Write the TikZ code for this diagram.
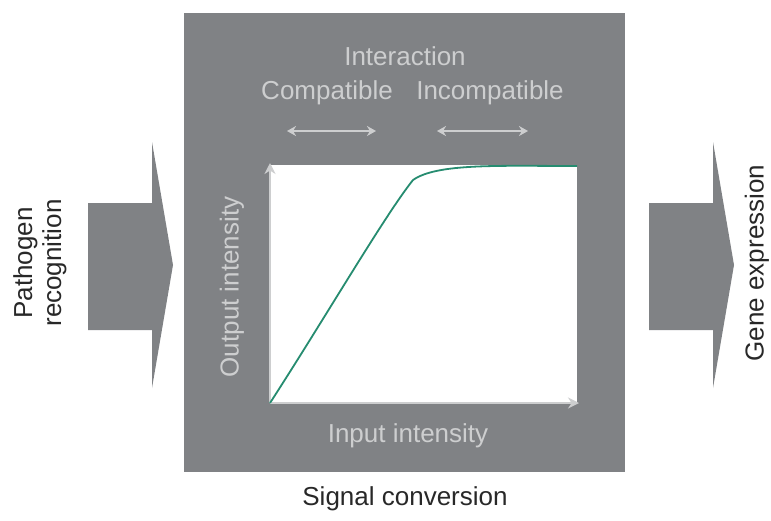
\documentclass[tikz,border=0pt]{standalone}
\usepackage{fontspec}
\setmainfont{Liberation Sans}
\usetikzlibrary{arrows.meta}
\definecolor{boxgray}{RGB}{128,130,133}
\definecolor{lightgray}{RGB}{205,206,207}
\definecolor{curvegreen}{RGB}{38,140,112}
\definecolor{labelgray}{RGB}{40,40,40}
\tikzset{
  lbl/.style={font=\fontsize{26}{29}\selectfont, inner sep=0pt},
  inlbl/.style={lbl, text=lightgray},
  outlbl/.style={lbl, text=labelgray},
  bigarrow/.style={fill=boxgray, draw=none},
  dbl/.style={draw=lightgray, line width=2pt, {Stealth[length=9pt,width=10pt]}-{Stealth[length=9pt,width=10pt]}},
  axis/.style={draw=lightgray, line width=2.5pt, -{Stealth[length=11pt,width=11pt]}}
}
\begin{document}
\begin{tikzpicture}[x=1pt,y=-1pt]
\useasboundingbox (0,0) rectangle (771,520);
% main box
\node[fill=boxgray, minimum width=441pt, minimum height=459pt, inner sep=0pt, anchor=north west] (box) at (184,13) {};
% plot area
\node[fill=white, minimum width=307pt, minimum height=238pt, inner sep=0pt, anchor=north west] (plot) at (270,165) {};
\coordinate (o) at (270,403);
\coordinate (ytop) at (270,163);
\coordinate (xend) at (579,403);
\draw[axis] (o) -- (ytop);
\draw[axis] (o) -- (xend);
\coordinate (c0) at (270,403);
\coordinate (c1) at (413,180);
\coordinate (c2) at (577,166);
\draw[curvegreen, line width=1.8pt] (c0) .. controls (325,318) and (385,215) .. (c1) .. controls (437,163) and (500,166) .. (c2);
% left arrow
\path[bigarrow] (88,203) -- (152,203) -- (152,142) -- (173,265) -- (152,388) -- (152,330) -- (88,330) -- cycle;
% right arrow
\path[bigarrow] (649,203) -- (713,203) -- (713,142) -- (734,265) -- (713,388) -- (713,330) -- (649,330) -- cycle;
% labels
\node[outlbl, rotate=90, align=center] (path) at (40,263) {Pathogen\\recognition};
\node[outlbl, rotate=90] (gene) at (757,263) {Gene expression};
\node[outlbl] (sig) at (405,499) {Signal conversion};
\node[inlbl] (inter) at (405,56) {Interaction};
\node[inlbl] (comp) at (327,93) {Compatible};
\node[inlbl] (incomp) at (490,93) {Incompatible};
\coordinate (a1) at (287,131);
\coordinate (a2) at (376,131);
\coordinate (b1) at (437,131);
\coordinate (b2) at (528,131);
\draw[dbl] (a1) -- (a2);
\draw[dbl] (b1) -- (b2);
\node[inlbl] (inp) at (408,436) {Input intensity};
\node[inlbl, rotate=90] (outp) at (232,287) {Output intensity};
\end{tikzpicture}
\end{document}
